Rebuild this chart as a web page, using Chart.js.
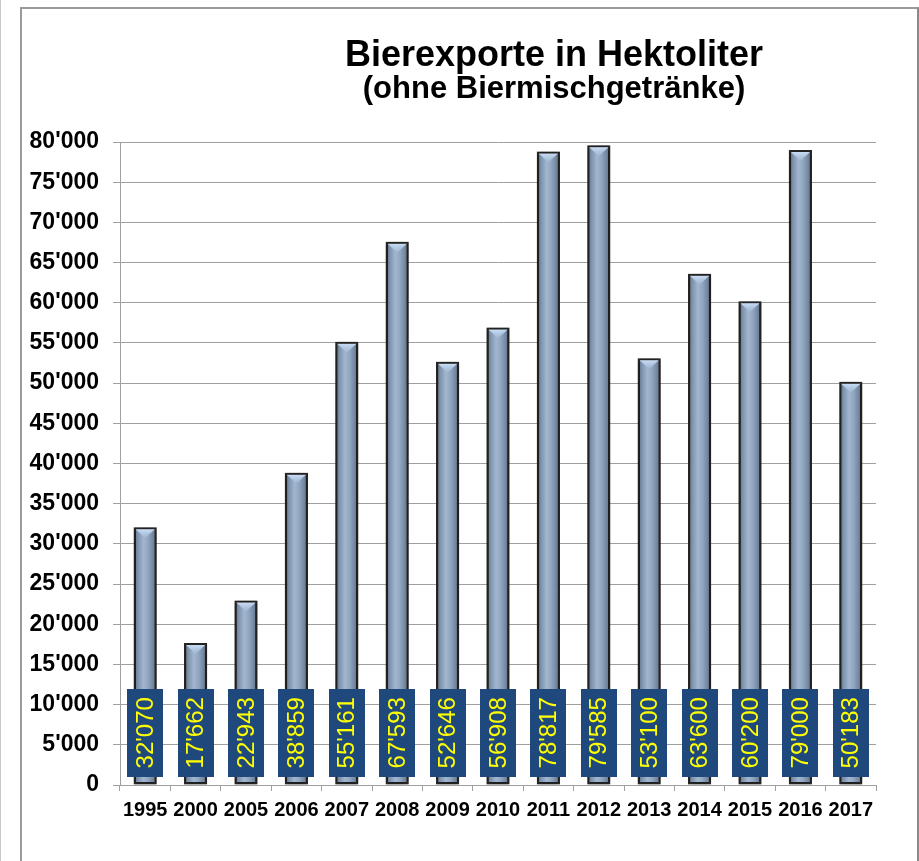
<!DOCTYPE html>
<html>
<head>
<meta charset="utf-8">
<script src="https://cdn.jsdelivr.net/npm/chart.js@4.4.1/dist/chart.umd.min.js"></script>
<style>
  html, body { margin: 0; padding: 0; width: 919px; height: 861px; overflow: hidden; background: #fff; }
  #wrap { position: relative; width: 919px; height: 861px; overflow: hidden; }
  #c { position: absolute; left: 0; top: 0; }
  #frame { position: absolute; left: 20px; top: 7px; width: 895px; height: 870px;
           border-left: 2px solid #9a9a9a; border-top: 2px solid #9a9a9a; border-right: 2px solid #8a8a8a;
           pointer-events: none; }
  #edge { position: absolute; left: 0; top: 0; width: 1px; height: 861px; background: #c8c8c8; }
</style>
</head>
<body>
<div id="wrap">
  <canvas id="c" width="1108" height="861"></canvas>
  <div id="frame"></div>
  <div id="edge"></div>
</div>
<script>
// ---- data ----
const years = ['1995','2000','2005','2006','2007','2008','2009','2010','2011','2012','2013','2014','2015','2016','2017'];
const exports = [32070, 17662, 22943, 38859, 55161, 67593, 52646, 56908, 78817, 79585, 53100, 63600, 60200, 79000, 50183];
const yTickMin = 0;
const yTickMax = 80000;
const yTickStep = 5000;
const titleText = 'Bierexporte in Hektoliter';
const subtitleText = '(ohne Biermischgetränke)';

function fmt(v) {
  return String(v).replace(/\B(?=(\d{3})+(?!\d))/g, "'");
}

Chart.defaults.font.family = "'Liberation Sans', Arial, sans-serif";
Chart.defaults.color = '#000';

const BAR_PCT = 0.46;

const barDeco = {
  id: 'barDeco',
  beforeDatasetsDraw(chart) {
    const ctx = chart.ctx;
    ctx.save();
    ctx.shadowColor = 'rgba(0,0,0,0.6)';
    ctx.shadowBlur = 5;
    ctx.shadowOffsetX = 0;
    ctx.shadowOffsetY = 0;
  },
  afterDatasetsDraw(chart) {
    const ctx = chart.ctx;
    ctx.restore();
    const meta = chart.getDatasetMeta(0);
    const y = chart.scales.y;
    meta.data.forEach((el, i) => {
      const w = el.width;
      const left = el.x - w / 2 + 2;
      const right = el.x + w / 2 - 2;
      const top = el.y + 2;
      // top highlight triangle
      ctx.save();
      const tg = ctx.createLinearGradient(0, top, 0, top + 9);
      tg.addColorStop(0, 'rgba(205,225,248,0.95)');
      tg.addColorStop(1, 'rgba(160,185,215,0.6)');
      ctx.fillStyle = tg;
      ctx.beginPath();
      ctx.moveTo(left, top);
      ctx.lineTo(right, top);
      ctx.lineTo(el.x, top + 9);
      ctx.closePath();
      ctx.fill();
      ctx.restore();
      // value label box
      const bTop = y.getPixelForValue(12000);
      const bBot = y.getPixelForValue(1000);
      const bw = 36;
      ctx.save();
      ctx.fillStyle = '#1f497d';
      ctx.fillRect(Math.round(el.x - bw / 2), Math.round(bTop), bw, Math.round(bBot - bTop));
      ctx.translate(el.x, (bTop + bBot) / 2);
      ctx.rotate(-Math.PI / 2);
      ctx.fillStyle = '#ffff00';
      ctx.font = "24px 'Liberation Sans', Arial, sans-serif";
      ctx.textAlign = 'center';
      ctx.textBaseline = 'middle';
      ctx.fillText(fmt(exports[i]), 0, 1);
      ctx.restore();
    });
  }
};

function barFill(c) {
  const xs = c.chart.scales.x;
  if (c.type !== 'data' || !xs || xs.width === undefined) return '#8399b3';
  const cx = xs.getPixelForValue(c.dataIndex);
  const w = (xs.width / years.length) * BAR_PCT;
  const g = c.chart.ctx.createLinearGradient(cx - w / 2, 0, cx + w / 2, 0);
  g.addColorStop(0, '#56677e');
  g.addColorStop(0.18, '#7d92ad');
  g.addColorStop(0.42, '#a2b6cf');
  g.addColorStop(0.62, '#91a6c0');
  g.addColorStop(0.85, '#71859f');
  g.addColorStop(1, '#4f5f75');
  return g;
}

new Chart(document.getElementById('c'), {
  type: 'bar',
  data: {
    labels: years,
    datasets: [{
      data: exports,
      backgroundColor: barFill,
      borderColor: '#262626',
      borderWidth: 2.5,
      borderSkipped: false,
      barPercentage: BAR_PCT,
      categoryPercentage: 1.0
    }]
  },
  options: {
    responsive: false,
    animation: false,
    layout: { padding: 0 },
    plugins: {
      legend: { display: false },
      tooltip: { enabled: false },
      title: {
        display: true,
        text: titleText,
        font: { size: 36, weight: 'bold', lineHeight: 1.0 },
        color: '#000',
        padding: { top: 38, bottom: 0 }
      },
      subtitle: {
        display: true,
        text: subtitleText,
        font: { size: 31, weight: 'bold', lineHeight: 1.0 },
        color: '#000',
        padding: { top: 0, bottom: 37 }
      }
    },
    scales: {
      x: {
        grid: { display: true, drawOnChartArea: false, drawTicks: true, tickLength: 6, color: '#a0a0a0', offset: true },
        border: { display: true, color: '#a0a0a0', width: 1 },
        ticks: { font: { size: 20, weight: 'bold', lineHeight: 1.0 }, color: '#000', padding: 9, maxRotation: 0, autoSkip: false },
        afterFit(s) { s.height = 76; }
      },
      y: {
        min: yTickMin,
        max: yTickMax,
        grid: { color: '#a0a0a0', lineWidth: 1, tickLength: 7 },
        border: { display: true, color: '#a0a0a0', width: 1 },
        ticks: {
          stepSize: yTickStep,
          font: { size: 23, weight: 'bold' },
          color: '#000',
          padding: 14,
          callback: (v) => fmt(v)
        },
        afterFit(s) { s.width = 120; }
      },
      y2: {
        type: 'linear',
        position: 'right',
        display: true,
        grid: { display: false, drawTicks: false },
        border: { display: false },
        ticks: { display: false },
        afterFit(s) { s.width = 232; }
      }
    }
  },
  plugins: [barDeco]
});
</script>
</body>
</html>
